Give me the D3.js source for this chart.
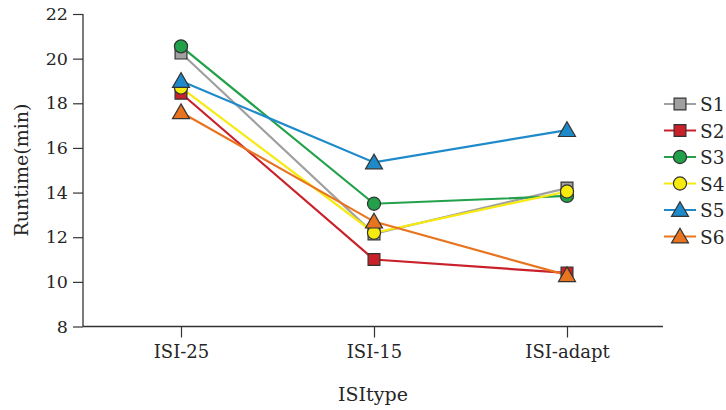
<!DOCTYPE html>
<html><head><meta charset="utf-8">
<script src="https://cdn.jsdelivr.net/npm/d3@7"></script>
<style>body{margin:0;background:#fff}svg{display:block}text{font-family:"DejaVu Serif",serif;fill:#262626}</style>
</head><body><svg id="c" width="726" height="410"></svg>
<script>
const categories = ["ISI-25", "ISI-15", "ISI-adapt"];
const seriesNames = ["S1", "S2", "S3", "S4", "S5", "S6"];
const S1 = [20.25, 12.15, 14.2];
const S2 = [18.45, 11.0, 10.4];
const S3 = [20.55, 13.5, 13.85];
const S4 = [18.7, 12.2, 14.05];
const S5 = [19.0, 15.35, 16.8];
const S6 = [17.6, 12.7, 10.3];
const yTicks = [8, 10, 12, 14, 16, 18, 20, 22];
const colors = ["#a0a0a0", "#c9202a", "#22a04a", "#f7ea0f", "#1f8ac9", "#e8741f"];
const shapes = ["square", "square", "circle", "circle", "triangle", "triangle"];

const series = [S1, S2, S3, S4, S5, S6];
const svg = d3.select("#c");
const x = d3.scalePoint().domain(categories).range([181, 567]);
const y = d3.scaleLinear().domain([8, 22]).range([326.5, 14]);
const axisColor = "#333";

// y axis
const ya = svg.append("g").attr("transform", "translate(83,0)")
  .call(d3.axisLeft(y).tickValues(yTicks).tickSize(10).tickPadding(5).tickFormat(d3.format("d")));
ya.select(".domain").attr("stroke", axisColor).attr("stroke-width", 1.3).attr("d", "M0," + y(22) + "V" + y(8));
ya.selectAll(".tick line").attr("stroke", axisColor).attr("stroke-width", 1.2);
ya.selectAll(".tick text").attr("font-size", 17.5).attr("fill", "#262626");

// x axis
const xa = svg.append("g").attr("transform", "translate(0," + y(8) + ")")
  .call(d3.axisBottom(x).tickSize(11).tickPadding(8));
xa.select(".domain").attr("stroke", axisColor).attr("stroke-width", 1.3).attr("d", "M83,0H663");
xa.selectAll(".tick line").attr("stroke", axisColor).attr("stroke-width", 1.2);
xa.selectAll(".tick text").attr("font-size", 18).attr("fill", "#262626");

// titles
svg.append("text").attr("x", 373).attr("y", 401).attr("text-anchor", "middle").attr("font-size", 19).text("ISItype");
svg.append("text").attr("transform", "translate(28,170) rotate(-90)").attr("text-anchor", "middle").attr("font-size", 19).text("Runtime(min)");

function symbolPath(shape) {
  if (shape === "square") return d3.symbol().type(d3.symbolSquare).size(140)();
  if (shape === "circle") return d3.symbol().type(d3.symbolCircle).size(135)();
  return d3.symbol().type(d3.symbolTriangle).size(125)();
}

const line = d3.line().x((d, i) => x(categories[i])).y(d => y(d));
series.forEach((vals, si) => {
  svg.append("path").attr("d", line(vals)).attr("fill", "none")
    .attr("stroke", colors[si]).attr("stroke-width", 2.2);
});
series.forEach((vals, si) => {
  vals.forEach((v, i) => {
    const dy = shapes[si] === "triangle" ? 1.5 : 0;
    svg.append("path").attr("d", symbolPath(shapes[si]))
      .attr("transform", "translate(" + x(categories[i]) + "," + (y(v) + dy) + ")")
      .attr("fill", colors[si]).attr("stroke", "#333").attr("stroke-width", 1.2);
  });
});

// legend
const lg = svg.append("g");
seriesNames.forEach((n, si) => {
  const ly = 104 + si * 26.5;
  lg.append("line").attr("x1", 664).attr("x2", 696).attr("y1", ly).attr("y2", ly)
    .attr("stroke", colors[si]).attr("stroke-width", 2);
  const dy = shapes[si] === "triangle" ? 1.5 : 0;
  lg.append("path").attr("d", symbolPath(shapes[si]))
    .attr("transform", "translate(680," + (ly + dy) + ")")
    .attr("fill", colors[si]).attr("stroke", "#333").attr("stroke-width", 1.2);
  lg.append("text").attr("x", 700).attr("y", ly + 7).attr("font-size", 18.5).text(n);
});
</script></body></html>
